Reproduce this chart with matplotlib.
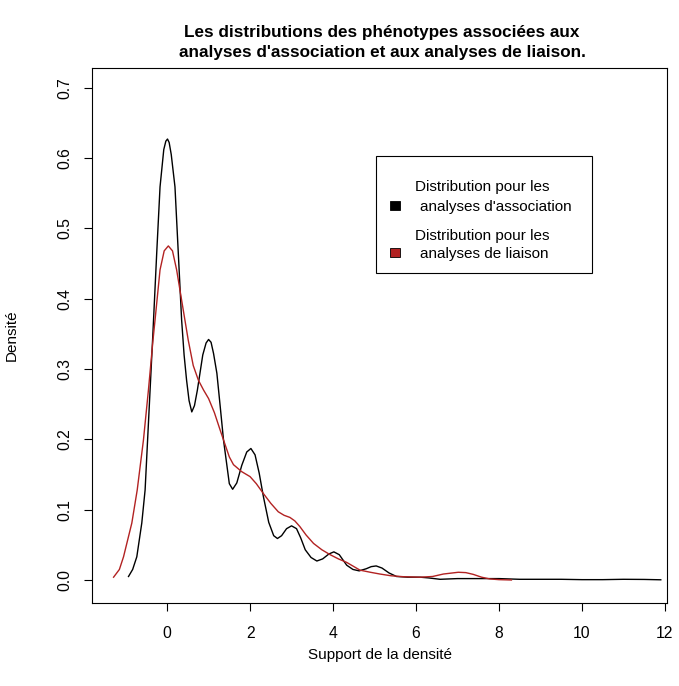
import matplotlib
matplotlib.use("Agg")
import matplotlib.pyplot as plt
from matplotlib.patches import Rectangle

plt.rcParams['font.family'] = ['Liberation Sans', 'DejaVu Sans']

# Density curve: association analyses (black)
assoc_x = [-0.93, -0.83, -0.73, -0.61, -0.53, -0.47, -0.41, -0.35, -0.25, -0.17, -0.08, -0.03, 0.01,
           0.05, 0.10, 0.19, 0.27, 0.35, 0.41, 0.47, 0.53, 0.595, 0.66, 0.73, 0.86, 0.94, 1.0,
           1.06, 1.12, 1.2, 1.28, 1.36, 1.5, 1.58, 1.68, 1.8, 1.92, 2.02, 2.12, 2.22, 2.32,
           2.45, 2.57, 2.66, 2.76, 2.88, 3.0, 3.12, 3.22, 3.33, 3.47, 3.61, 3.75,
           3.9, 4.02, 4.15, 4.33, 4.48, 4.63, 4.8, 4.92, 5.04, 5.18, 5.35, 5.53,
           5.8, 6.1, 6.3, 6.58, 7.0, 7.5, 8.0, 8.5, 9.0, 9.5, 10.0, 10.5, 11.0,
           11.5, 11.9]
assoc_y = [0.005, 0.015, 0.033, 0.081, 0.128, 0.199, 0.27, 0.341, 0.465, 0.559, 0.612, 0.624, 0.627,
           0.622, 0.605, 0.559, 0.465, 0.37, 0.320, 0.284, 0.255, 0.239, 0.248, 0.27, 0.320, 0.337, 0.342,
           0.338, 0.322, 0.294, 0.247, 0.199, 0.137, 0.129, 0.138, 0.163, 0.182, 0.187, 0.178,
           0.152, 0.119, 0.082, 0.063, 0.059, 0.063, 0.073, 0.077, 0.073, 0.060, 0.043,
           0.032, 0.027, 0.030, 0.037, 0.040, 0.036, 0.021, 0.015, 0.013, 0.016, 0.019,
           0.020, 0.017, 0.010, 0.005, 0.004, 0.004, 0.003, 0.001, 0.002, 0.002,
           0.002, 0.001, 0.001, 0.001, 0.0005, 0.0005, 0.001, 0.0008, 0.0003]

# Density curve: linkage analyses (red)
link_x = [-1.29, -1.15, -1.05, -0.85, -0.72, -0.57, -0.45, -0.34, -0.29, -0.17, -0.07,
          0.03, 0.13, 0.23, 0.35, 0.51, 0.63, 0.755, 0.88, 1.0, 1.14, 1.28, 1.5,
          1.6, 1.8, 2.0, 2.15, 2.32, 2.5, 2.68, 2.82, 2.96, 3.08, 3.2, 3.35, 3.53,
          3.73, 3.93, 4.13, 4.33, 4.65, 4.9, 5.13, 5.4, 5.69, 6.1, 6.4, 6.66,
          7.02, 7.2, 7.38, 7.58, 7.78, 8.0, 8.3]
link_y = [0.004, 0.015, 0.033, 0.081, 0.128, 0.199, 0.27, 0.341, 0.37, 0.441, 0.468,
          0.475, 0.468, 0.441, 0.398, 0.341, 0.305, 0.284, 0.270, 0.258, 0.238, 0.213, 0.175,
          0.164, 0.154, 0.147, 0.137, 0.123, 0.109, 0.097, 0.092, 0.089, 0.084, 0.076,
          0.064, 0.052, 0.043, 0.036, 0.030, 0.025, 0.014, 0.011, 0.0085, 0.006, 0.0047,
          0.004, 0.005, 0.0085, 0.011, 0.0105, 0.008, 0.004, 0.0015, 0.0005, 0.0]

x_ticks = [0, 2, 4, 6, 8, 10, 12]
y_ticks = [0.0, 0.1, 0.2, 0.3, 0.4, 0.5, 0.6, 0.7]

W, H = 679, 686
fig = plt.figure(figsize=(W / 100, H / 100), dpi=100)

def fx(px):
    return px / W

def fy(py):
    return 1 - py / H

ax = fig.add_axes([fx(92), fy(603), fx(667) - fx(92), fy(68) - fy(603)])
ax.plot(assoc_x, assoc_y, color='black', lw=1.0)
ax.plot(link_x, link_y, color='#B22222', lw=1.0)

ax.set_xlim(-1.81, 12.05)
ax.set_ylim(-0.0327, 0.728)
ax.set_xticks(x_ticks)
ax.set_xticklabels([str(t) for t in x_ticks])
ax.set_yticks(y_ticks)
ax.set_yticklabels(['%.1f' % t for t in y_ticks], rotation=90, va='center')
ax.tick_params(direction='out', length=5.8, width=0.8, labelsize=11.3, pad=8)
ax.tick_params(axis='x', pad=11)
for s in ax.spines.values():
    s.set_linewidth(0.8)

fig.text(fx(382), fy(33), "Les distributions des phénotypes associées aux",
         ha='center', va='center', fontsize=12.3, fontweight='bold')
fig.text(fx(382), fy(53), "analyses d'association et aux analyses de liaison.",
         ha='center', va='center', fontsize=12.3, fontweight='bold')
fig.text(fx(380), fy(655), "Support de la densité", ha='center', va='center', fontsize=11)
fig.text(fx(12), fy(335), "Densité", ha='center', va='center', fontsize=11, rotation=90)

# Legend box
fig.patches.append(Rectangle((fx(376), fy(273)), fx(592) - fx(376), fy(156) - fy(273),
                             transform=fig.transFigure, fill=False, edgecolor='black', lw=0.8))
fig.patches.append(Rectangle((fx(390), fy(210)), fx(400) - fx(390), fy(201) - fy(210),
                             transform=fig.transFigure, facecolor='black', edgecolor='black', lw=0.6))
fig.patches.append(Rectangle((fx(390), fy(257)), fx(400) - fx(390), fy(248) - fy(257),
                             transform=fig.transFigure, facecolor='#B22222', edgecolor='black', lw=0.6))
fig.text(fx(415), fy(187), "Distribution pour les", ha='left', va='center', fontsize=11)
fig.text(fx(420), fy(207), "analyses d'association", ha='left', va='center', fontsize=11)
fig.text(fx(415), fy(236), "Distribution pour les", ha='left', va='center', fontsize=11)
fig.text(fx(420), fy(254), "analyses de liaison", ha='left', va='center', fontsize=11)

fig.savefig('out.png', dpi=100)
